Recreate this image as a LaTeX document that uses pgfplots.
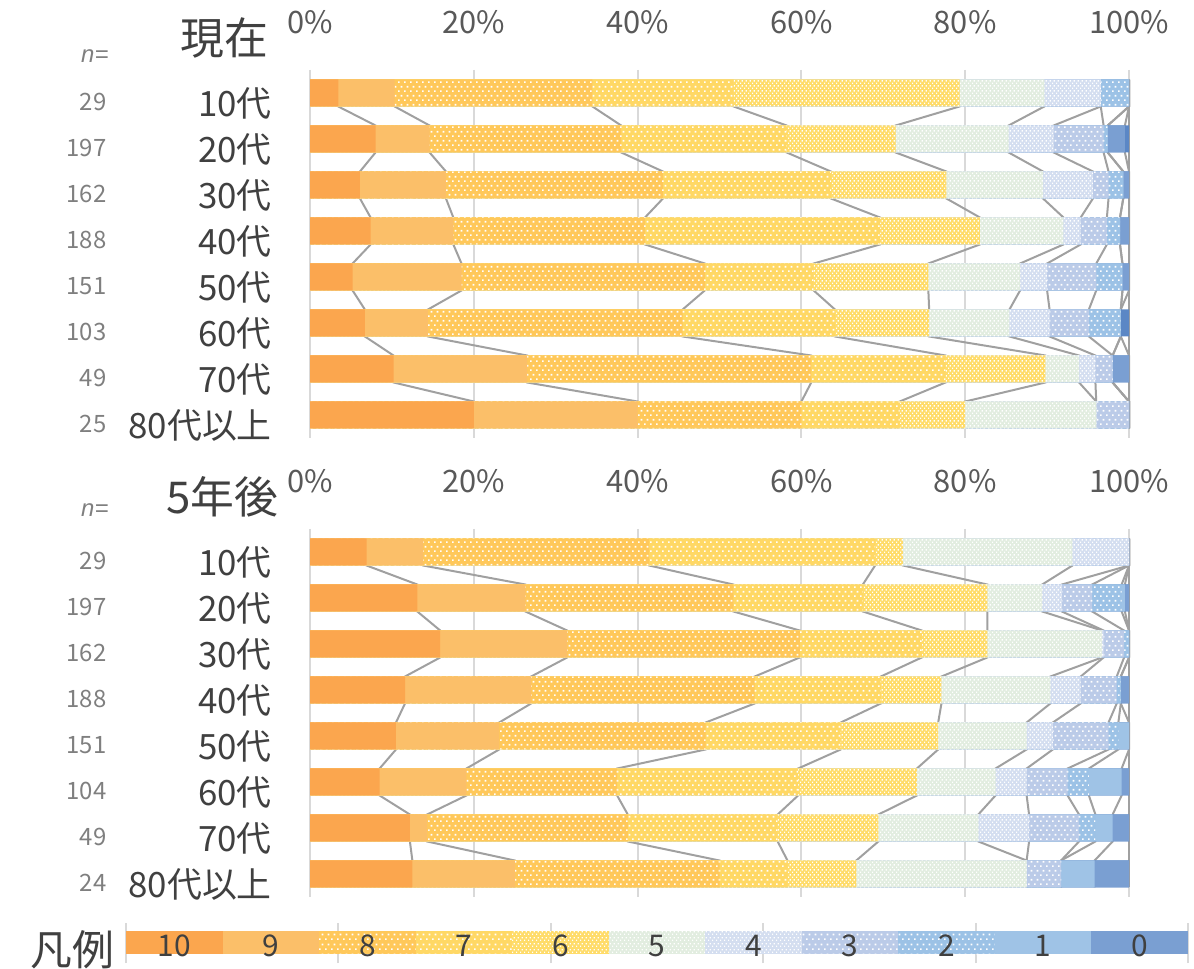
\documentclass[border=0pt]{standalone}
\usepackage{fontspec}
\setmainfont{Noto Sans CJK JP}
\newfontfamily\nfont{Liberation Sans}
\usepackage{pgfplots}
\pgfplotsset{compat=1.18}
\usepackage{pgfplotstable}
\usetikzlibrary{patterns.meta}

\definecolor{c10}{HTML}{FBA64E}
\definecolor{c9}{HTML}{FBBF69}
\definecolor{c8}{HTML}{FFC85A}
\definecolor{c7}{HTML}{FFD865}
\definecolor{c6}{HTML}{FFDC6A}
\definecolor{c5}{HTML}{E2EDE0}
\definecolor{c4}{HTML}{D4DEF0}
\definecolor{c3}{HTML}{BBCBE8}
\definecolor{c2}{HTML}{9CC2E6}
\definecolor{c1}{HTML}{9FC3E6}
\definecolor{c0}{HTML}{7A9FD2}
\definecolor{cx}{HTML}{5B87C5}
\definecolor{gridc}{HTML}{D9D9D9}
\definecolor{serline}{HTML}{A0A0A0}
\definecolor{txt}{HTML}{404040}
\definecolor{tickc}{HTML}{595959}
\definecolor{cntc}{HTML}{7F7F7F}

% excel-like dotted fills
\tikzdeclarepattern{
  name=sdots, type=uncolored,
  bottom left={(0bp,0bp)}, top right={(5.6bp,9.4bp)},
  tile size={(5.6bp,9.4bp)},
  code={\fill (0bp,0bp) rectangle (1.8bp,1.8bp);
        \fill (2.8bp,4.7bp) rectangle (4.6bp,6.5bp);}
}
\tikzdeclarepattern{
  name=fdots, type=uncolored,
  bottom left={(0bp,0bp)}, top right={(4bp,5.4bp)},
  tile size={(4bp,5.4bp)},
  code={\fill (0bp,0bp) rectangle (1.5bp,1.5bp);
        \fill (2bp,2.7bp) rectangle (3.5bp,4.2bp);}
}

% cumulative shares (%) after each answer 10,9,...,0 and a last dark strip
% every bar is listed twice: pos = top and bottom edge of the bar
\pgfplotstableread{
pos    cat c10   c9    c8    c7    c6    c5    c4    c3    c2    c1    c0    cx
-0.293 0   3.45  10.34 34.48 51.72 79.31 89.66 96.55 96.55 100   100   100   100
0.293  0   3.45  10.34 34.48 51.72 79.31 89.66 96.55 96.55 100   100   100   100
0.707  1   8.0   14.6  38.0  58.2  71.5  85.3  90.8  96.9  97.4  97.4  99.5  100
1.293  1   8.0   14.6  38.0  58.2  71.5  85.3  90.8  96.9  97.4  97.4  99.5  100
1.707  2   6.1   16.6  43.1  63.6  77.7  89.5  95.6  97.5  99.3  99.3  100   100
2.293  2   6.1   16.6  43.1  63.6  77.7  89.5  95.6  97.5  99.3  99.3  100   100
2.707  3   7.4   17.5  40.9  69.6  81.8  92.0  94.1  97.3  98.9  98.9  100   100
3.293  3   7.4   17.5  40.9  69.6  81.8  92.0  94.1  97.3  98.9  98.9  100   100
3.707  4   5.2   18.5  48.2  61.5  75.5  86.7  90.0  96.0  99.2  99.2  100   100
4.293  4   5.2   18.5  48.2  61.5  75.5  86.7  90.0  96.0  99.2  99.2  100   100
4.707  5   6.7   14.4  45.5  64.1  75.6  85.4  90.3  95.1  99.0  99.0  99.0  100
5.293  5   6.7   14.4  45.5  64.1  75.6  85.4  90.3  95.1  99.0  99.0  99.0  100
5.707  6   10.2  26.5  61.2  77.6  89.8  93.9  95.9  98.0  98.0  98.0  100   100
6.293  6   10.2  26.5  61.2  77.6  89.8  93.9  95.9  98.0  98.0  98.0  100   100
6.707  7   20    40    60    72    80    96    96    100   100   100   100   100
7.293  7   20    40    60    72    80    96    96    100   100   100   100   100
}\nowtab

\pgfplotstableread{
pos    cat c10   c9    c8    c7    c6    c5    c4    c3    c2    c1    c0    cx
-0.293 0   6.9   13.8  41.4  69.0  72.4  93.1  100   100   100   100   100   100
0.293  0   6.9   13.8  41.4  69.0  72.4  93.1  100   100   100   100   100   100
0.707  1   13.1  26.3  51.7  67.5  82.7  89.4  91.8  95.5  99.1  99.5  100   100
1.293  1   13.1  26.3  51.7  67.5  82.7  89.4  91.8  95.5  99.1  99.5  100   100
1.707  2   15.9  31.4  59.8  74.7  82.7  96.7  96.9  99.4  100   100   100   100
2.293  2   15.9  31.4  59.8  74.7  82.7  96.7  96.9  99.4  100   100   100   100
2.707  3   11.6  27.0  54.3  69.7  77.1  90.4  94.1  98.5  99.0  99.0  100   100
3.293  3   11.6  27.0  54.3  69.7  77.1  90.4  94.1  98.5  99.0  99.0  100   100
3.707  4   10.5  23.1  48.3  64.8  76.7  87.5  90.7  97.5  98.7  100   100   100
4.293  4   10.5  23.1  48.3  64.8  76.7  87.5  90.7  97.5  98.7  100   100   100
4.707  5   8.5   19.1  37.5  59.6  74.1  83.7  87.5  92.5  95.1  99.1  100   100
5.293  5   8.5   19.1  37.5  59.6  74.1  83.7  87.5  92.5  95.1  99.1  100   100
5.707  6   12.2  14.3  38.8  57.1  69.4  81.6  87.8  93.9  95.9  98.0  100   100
6.293  6   12.2  14.3  38.8  57.1  69.4  81.6  87.8  93.9  95.9  98.0  100   100
6.707  7   12.5  25.0  50.0  58.3  66.7  87.5  87.5  91.7  91.7  95.8  100   100
7.293  7   12.5  25.0  50.0  58.3  66.7  87.5  87.5  91.7  91.7  95.8  100   100
}\latertab

\pgfplotsset{
  s10/.style={fill=c10},
  s9/.style={fill=c9},
  s8/.style={fill=c8, postaction={pattern=sdots, pattern color=white}},
  s7/.style={fill=c7, postaction={pattern=sdots, pattern color=white}},
  s6/.style={fill=c6, postaction={pattern=fdots, pattern color=white}},
  s5/.style={fill=c5, postaction={pattern=fdots, pattern color=white}},
  s4/.style={fill=c4, postaction={pattern=fdots, pattern color=white}},
  s3/.style={fill=c3, postaction={pattern=sdots, pattern color=white}},
  s2/.style={fill=c2, postaction={pattern=sdots, pattern color=white}},
  s1/.style={fill=c1},
  s0/.style={fill=c0},
  sx/.style={fill=cx},
  seg/.style={xbar, bar width=27bp, bar shift=0pt, draw=none},
  sline/.style={serline, line width=2bp, mark=none},
  panel/.style={
    scale only axis, width=819bp, height=368bp,
    xmin=0, xmax=100, ymin=-0.5, ymax=7.5, y dir=reverse,
    axis line style={draw=none}, tick style={draw=none},
    xmajorgrids, grid style={gridc, line width=2bp},
    xtick={0,20,40,60,80,100},
    xticklabels={0\%,20\%,40\%,60\%,80\%,100\%},
    xticklabel pos=upper,
    xticklabel style={font=\fontsize{31}{31}\selectfont, text=tickc,
      anchor=center, yshift=48bp},
    ytick={0,...,7},
    yticklabels={10代,20代,30代,40代,50代,60代,70代,80代以上},
    yticklabel style={font=\fontsize{35}{35}\selectfont, text=txt,
      anchor=east, inner sep=0pt, xshift=-38bp, yshift=-10bp},
    clip=false,
  },
  legbox/.style={at={(126bp,6bp)}, anchor=south west, scale only axis,
    width=1062bp, height=40bp, xmin=0, xmax=100, ymin=-0.5, ymax=0.5,
    clip=false},
}
\tikzset{
  cnt/.style={anchor=east, xshift=-200bp, yshift=-9bp, text=cntc,
    font=\fontsize{24}{24}\selectfont},
  lg/.style={text=txt, yshift=-3bp, font=\fontsize{30}{30}\selectfont},
}

\newcommand\panelplots[1]{%
  \pgfplotsinvokeforeach{c10,c9,c8,c7,c6,c5,c4,c3,c2,c1,c0,cx}{%
    \addplot[sline] table[x=##1, y=pos] {#1};}%
  \pgfplotsinvokeforeach{x,0,1,2,3,4,5,6,7,8,9,10}{%
    \addplot[seg, s##1] table[x=c##1, y=cat] {#1};}%
}

\begin{document}
\begin{tikzpicture}
\path[use as bounding box] (0,0) rectangle (1194bp,969bp);

\begin{axis}[panel, at={(310bp,899bp)}, anchor=north west]
\panelplots{\nowtab}
\node[anchor=east, xshift=-38bp, yshift=32bp, text=txt,
  font=\fontsize{44}{44}\selectfont] at (axis description cs:0,1) {現在};
\node[anchor=east, xshift=-198bp, yshift=14bp, text=cntc,
  font=\nfont\itshape\fontsize{24}{24}\selectfont] at (axis description cs:0,1) {n=};
\node[cnt] at (axis cs:0,0) {29};
\node[cnt] at (axis cs:0,1) {197};
\node[cnt] at (axis cs:0,2) {162};
\node[cnt] at (axis cs:0,3) {188};
\node[cnt] at (axis cs:0,4) {151};
\node[cnt] at (axis cs:0,5) {103};
\node[cnt] at (axis cs:0,6) {49};
\node[cnt] at (axis cs:0,7) {25};
\end{axis}

\begin{axis}[panel, at={(310bp,440bp)}, anchor=north west]
\panelplots{\latertab}
\node[anchor=east, xshift=-28bp, yshift=32bp, text=txt,
  font=\fontsize{44}{44}\selectfont] at (axis description cs:0,1) {5年後};
\node[anchor=east, xshift=-198bp, yshift=19bp, text=cntc,
  font=\nfont\itshape\fontsize{24}{24}\selectfont] at (axis description cs:0,1) {n=};
\node[cnt] at (axis cs:0,0) {29};
\node[cnt] at (axis cs:0,1) {197};
\node[cnt] at (axis cs:0,2) {162};
\node[cnt] at (axis cs:0,3) {188};
\node[cnt] at (axis cs:0,4) {151};
\node[cnt] at (axis cs:0,5) {104};
\node[cnt] at (axis cs:0,6) {49};
\node[cnt] at (axis cs:0,7) {24};
\end{axis}

% legend drawn as a strip of equal parts
\begin{axis}[legbox,
  axis line style={draw=none}, tick style={draw=none},
  xmajorgrids, grid style={gridc, line width=2bp},
  xtick={0,20,40,60,80,100}, xticklabels={}, ytick=\empty,
  xbar stacked, bar width=23bp]
\addplot[s10, draw=none] coordinates {(9.0909,0)};
\addplot[s9, draw=none] coordinates {(9.0909,0)};
\addplot[s8, draw=none] coordinates {(9.0909,0)};
\addplot[s7, draw=none] coordinates {(9.0909,0)};
\addplot[s6, draw=none] coordinates {(9.0909,0)};
\addplot[s5, draw=none] coordinates {(9.0909,0)};
\addplot[s4, draw=none] coordinates {(9.0909,0)};
\addplot[s3, draw=none] coordinates {(9.0909,0)};
\addplot[s2, draw=none] coordinates {(9.0909,0)};
\addplot[s1, draw=none] coordinates {(9.0909,0)};
\addplot[s0, draw=none] coordinates {(9.0909,0)};
\node[anchor=east, xshift=-8bp, yshift=-7bp, text=txt,
  font=\fontsize{42}{42}\selectfont] at (axis description cs:0,0.5) {凡例};
\end{axis}
% labels of the legend strip, on top of the bars
\begin{axis}[legbox, hide axis]
\node[lg] at (axis cs:4.545,0) {10};
\node[lg] at (axis cs:13.636,0) {9};
\node[lg] at (axis cs:22.727,0) {8};
\node[lg] at (axis cs:31.818,0) {7};
\node[lg] at (axis cs:40.909,0) {6};
\node[lg] at (axis cs:50,0) {5};
\node[lg] at (axis cs:59.091,0) {4};
\node[lg] at (axis cs:68.182,0) {3};
\node[lg] at (axis cs:77.273,0) {2};
\node[lg] at (axis cs:86.364,0) {1};
\node[lg] at (axis cs:95.455,0) {0};
\end{axis}
\end{tikzpicture}
\end{document}
